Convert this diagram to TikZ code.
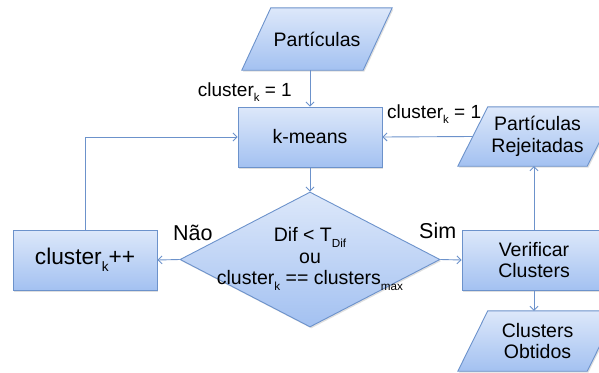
\documentclass[tikz,border=0pt]{standalone}
\usepackage{fontspec}
\setmainfont{Liberation Sans}
\usetikzlibrary{shapes.geometric,arrows.meta,shadows}
\definecolor{edgeblue}{HTML}{6C92CB}
\definecolor{ftop}{HTML}{DDE8FA}
\definecolor{fbot}{HTML}{A3C1F1}
\newcommand\lsub[1]{\raisebox{-0.3em}{\scalebox{0.6}{#1}}}
\pgfdeclarelayer{bg}
\pgfsetlayers{bg,main}
\begin{document}
\begin{tikzpicture}[x=1pt,y=-1pt,
  shapefill/.style={draw=edgeblue, line width=0.9pt, top color=ftop, bottom color=fbot,
    drop shadow={shadow xshift=1.2pt, shadow yshift=-1.5pt, opacity=0.25}},
  mainfont/.style={font=\fontsize{19.5}{21.5}\selectfont},
  box/.style={shapefill, rectangle, minimum width=144pt, minimum height=60pt, inner sep=0pt, align=center, mainfont},
  ptext/.style={rectangle, minimum height=59pt, inner sep=0pt, align=center, mainfont},
  dia/.style={shapefill, diamond, minimum width=260pt, minimum height=135pt, inner sep=0pt},
  lbl/.style={inner sep=0pt, font=\fontsize{19}{21}\selectfont},
  yn/.style={inner sep=0pt, font=\fontsize{21.5}{23}\selectfont},
  conn/.style={draw=edgeblue, line width=0.9pt, -{Straight Barb[length=4pt,width=8pt]}}]
\useasboundingbox (0,0) rectangle (599,372);

% nodes
\node[ptext, minimum width=121pt, minimum height=62pt] (p) at (317,39) {Partículas};
\node[box] (km) at (310,137) {k-means};
\node[ptext, minimum width=129pt] (rej) at (537.5,136.5) {Partículas\\Rejeitadas};
\node[dia] (d) at (310,259.5) {};
\node[align=center, inner sep=0pt, mainfont] (dt) at (310,259) {Dif < T\lsub{Dif}\\ou\\cluster\lsub{k} == clusters\lsub{max}};
\node[box, font=\fontsize{22.7}{24}\selectfont] (ck) at (85,260) {cluster\lsub{k}++};
\node[box] (vf) at (534,260) {Verificar\\Clusters};
\node[ptext, minimum width=129pt, minimum height=60pt] (obt) at (537.5,341) {Clusters\\Obtidos};

% parallelogram outlines
\begin{pgfonlayer}{bg}
\foreach \n/\s in {p/14.5, rej/15, obt/15}{
  \path[shapefill] ([xshift=-\s pt]\n.south west) -- ([xshift=-\s pt]\n.south east)
     -- ([xshift=\s pt]\n.north east) -- ([xshift=\s pt]\n.north west) -- cycle;
}
\end{pgfonlayer}

% labels
\node[lbl, anchor=base east] (l1) at (292,96) {cluster\lsub{k} = 1};
\node[lbl, anchor=base west] (l2) at (387,118) {cluster\lsub{k} = 1};
\node[yn, anchor=base west] (nao) at (173,240) {Não};
\node[yn, anchor=base west] (sim) at (419,238) {Sim};

% connectors
\draw[conn] (p.south -| km.north) -- (km.north);
\draw[conn] (rej.west) -- (km.east);
\draw[conn] (km.south) -- (d.north);
\draw[conn] (d.west) -- (ck.east);
\draw[conn] (d.east) -- (vf.west);
\draw[conn] (ck.north) |- (km.west);
\draw[conn] (vf.north) -- (vf.north |- rej.south);
\draw[conn] (vf.south) -- (vf.south |- obt.north);
\end{tikzpicture}
\end{document}
